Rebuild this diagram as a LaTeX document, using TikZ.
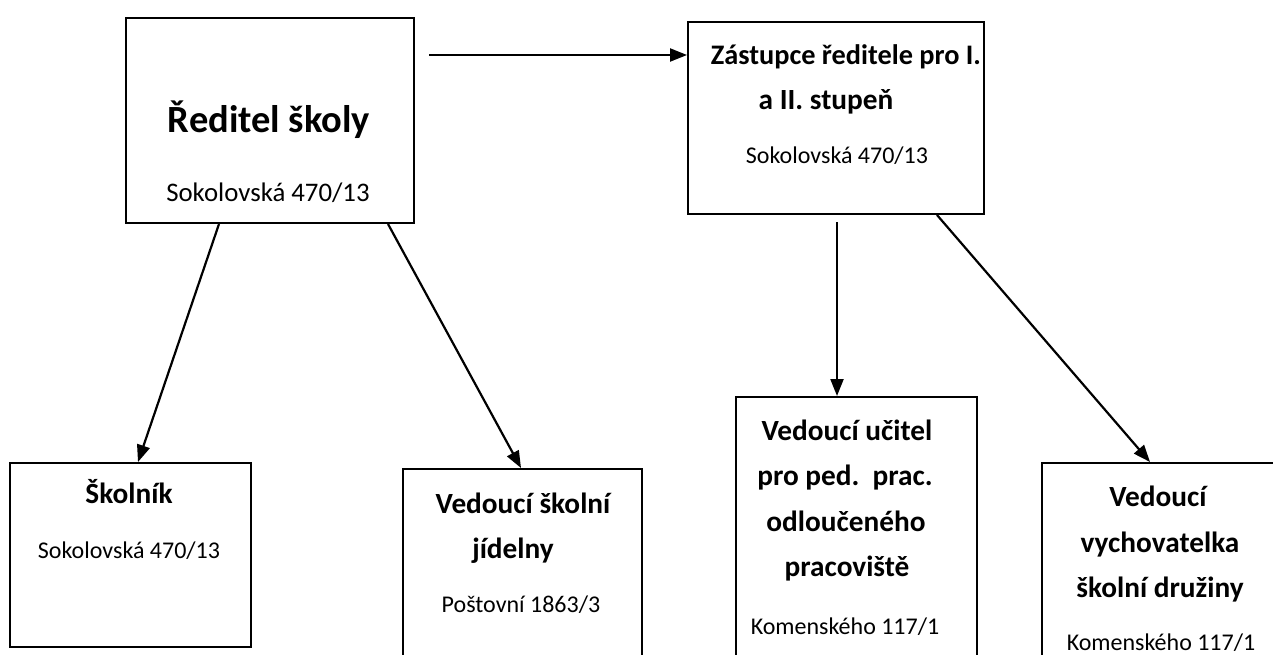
\documentclass[tikz,border=0pt]{standalone}
\usepackage{fontspec}
\setmainfont{Carlito}
\usetikzlibrary{arrows.meta,calc}
\tikzset{
  box/.style={draw, line width=2pt, inner sep=0pt, anchor=north west},
  bigtitle/.style={inner sep=0pt, anchor=base, font=\bfseries\fontsize{38.5}{42}\selectfont},
  title/.style={inner sep=0pt, anchor=base, font=\bfseries\fontsize{29.3}{34}\selectfont},
  addrbig/.style={inner sep=0pt, anchor=base, font=\fontsize{26.8}{30}\selectfont},
  addr/.style={inner sep=0pt, anchor=base, font=\fontsize{24}{28}\selectfont},
  conn/.style={line width=2.2pt, -{Triangle[length=17pt,width=13pt]}}
}
\begin{document}
\begin{tikzpicture}[x=1pt,y=-1pt]
\useasboundingbox (0,0) rectangle (1273,655);
% boxes
\node[box, minimum width=288pt, minimum height=205pt] (reditel) at (125,17) {};
\node[box, minimum width=296pt, minimum height=192pt] (zast) at (687,21) {};
\node[box, minimum width=241pt, minimum height=184pt] (skolnik) at (9,462) {};
\node[box, minimum width=239pt, minimum height=200pt] (jidelna) at (402,468) {};
\node[box, minimum width=241pt, minimum height=270pt] (ucitel) at (735,396) {};
\node[box, minimum width=260pt, minimum height=210pt] (druzina) at (1041,462) {};
% texts
\node[bigtitle] (t1) at (269,133) {Ředitel školy};
\node[addrbig] (a1) at (268,201) {Sokolovská 470/13};
\node[title, font=\bfseries\fontsize{28.3}{34}\selectfont] (t2a) at (846,65) {Zástupce ředitele pro I.};
\node[title] (t2b) at (826,110) {a II. stupeň};
\node[addr] (a2) at (837,164) {Sokolovská 470/13};
\node[title] (t3) at (129,503) {Školník};
\node[addr] (a3) at (129,558) {Sokolovská 470/13};
\node[title] (t4a) at (523,513) {Vedoucí školní};
\node[title] (t4b) at (513,558) {jídelny};
\node[addr] (a4) at (521,612) {Poštovní 1863/3};
\node[title] (t5a) at (847,440) {Vedoucí učitel};
\node[title] (t5b) at (845,485) {pro ped.\ \ prac.};
\node[title] (t5c) at (846,531) {odloučeného};
\node[title] (t5d) at (847,576) {pracoviště};
\node[addr] (a5) at (845,634) {Komenského 117/1};
\node[title] (t6a) at (1158,506) {Vedoucí};
\node[title] (t6b) at (1160,552) {vychovatelka};
\node[title] (t6c) at (1160,597) {školní družiny};
\node[addr] (a6) at (1161,650) {Komenského 117/1};
% connectors
\coordinate (s1) at (429,55);
\coordinate (s4) at (837,222);
\draw[conn] (s1) -- (zast.west |- s1);
\draw[conn] ([xshift=94pt]reditel.south west) -- ([xshift=129pt]skolnik.north west);
\draw[conn] ([xshift=263pt]reditel.south west) -- ([xshift=119pt]jidelna.north west);
\draw[conn] (s4) -- (ucitel.north -| s4);
\draw[conn] ([xshift=250pt]zast.south west) -- ([xshift=109pt]druzina.north west);
\end{tikzpicture}
\end{document}
